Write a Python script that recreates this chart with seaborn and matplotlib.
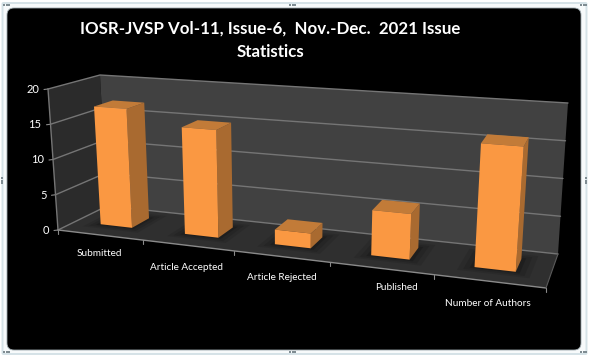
import numpy as np
import matplotlib
matplotlib.use('Agg')
import matplotlib.pyplot as plt
from matplotlib.patches import FancyBboxPatch
from matplotlib.transforms import Transform
import seaborn as sns

# Datos del grafico
categorias = ['Submitted', 'Article Accepted', 'Article Rejected', 'Published', 'Number of Authors']
valores = [17, 15, 2, 6, 16]
ticks_y = [0, 5, 10, 15, 20]
titulo = 'IOSR-JVSP Vol-11, Issue-6,  Nov.-Dec.  2021 Issue\nStatistics'

W, H = 589, 359
VMAX = 20
# esquinas de la caja 3D en pixeles: (frente/fondo)
FBL, FBR, FTL, FTR = np.array([58, 230.]), np.array([546, 288.]), np.array([48, 89.]), np.array([558, 126.])
BBL, BBR, BTL, BTR = np.array([107, 206.]), np.array([558, 254.]), np.array([100, 75.]), np.array([568, 103.])
K = 0.187           # perspectiva horizontal
D0, D1 = 0.36, 0.74 # profundidad de las barras


def proyectar(x, v, d):
    """Categoria (x), valor (v) y profundidad (d) a pixeles de la imagen."""
    x, v = np.asarray(x, float), np.asarray(v, float)
    u = (x + 0.5) / len(categorias)
    u = u / (1 + K * (1 - u))
    t = v / VMAX
    u, t = u[..., None], t[..., None]
    frente = (1 - t) * ((1 - u) * FBL + u * FBR) + t * ((1 - u) * FTL + u * FTR)
    fondo = (1 - t) * ((1 - u) * BBL + u * BBR) + t * ((1 - u) * BTL + u * BTR)
    return (1 - d) * frente + d * fondo


class Proyeccion(Transform):
    """Lleva datos del eje a pantalla a una profundidad fija."""
    input_dims = 2
    output_dims = 2

    def __init__(self, d):
        super().__init__()
        self.d = d

    def transform_non_affine(self, values):
        p = proyectar(values[:, 0], values[:, 1], self.d)
        return np.column_stack([p[:, 0], H - p[:, 1]])


sns.set_theme(style='white')
plt.rcParams['font.family'] = ['Lato', 'DejaVu Sans']

fig = plt.figure(figsize=(W / 100, H / 100), dpi=100, facecolor='white')

# Marco del objeto y fondo negro
fondo_ax = fig.add_axes([0, 0, 1, 1])
fondo_ax.set_xlim(0, W)
fondo_ax.set_ylim(H, 0)
fondo_ax.set_axis_off()
fondo_ax.add_patch(FancyBboxPatch((2.5, 3), 584, 351, boxstyle='round,pad=0,rounding_size=1',
                                  fc='#f7fafb', ec='#d5e2e7', lw=1.4))
fondo_ax.add_patch(FancyBboxPatch((7, 8), 574, 342, boxstyle='round,pad=0,rounding_size=7',
                                  fc='black', ec='#9aa5aa', lw=0.6))
for px, py in [(4, 5), (581, 5), (4, 352), (581, 352), (290, 5), (290, 352), (2, 178), (586, 178)]:
    for k in range(3):
        if py in (5, 352):
            fondo_ax.plot(px + k * 2.5, py, 's', ms=1.5, color='#7f8c92', mew=0)
        else:
            fondo_ax.plot(px, py + k * 2.5, 's', ms=1.5, color='#7f8c92', mew=0)

ax = fig.add_axes([0, 0, 1, 1])
ax.patch.set_alpha(0)
sns.barplot(x=categorias, y=valores, color='#FA9842', saturation=1, width=0.38, ax=ax,
            edgecolor='none', linewidth=0)
barras = list(ax.patches)
ax.set_axis_off()


def cara(puntos, color, z, alpha=1.0):
    p = np.array(puntos)
    fondo_ax.fill(p[:, 0], p[:, 1], color=color, zorder=z, alpha=alpha, lw=0)


p3 = proyectar
x_ini, x_fin = -0.5, len(categorias) - 0.5

# Paredes y suelo
cara([p3(x_ini, 0, 0), p3(x_ini, VMAX, 0), p3(x_ini, VMAX, 1), p3(x_ini, 0, 1)], '#2b2b2b', 2)
cara([p3(x_ini, 0, 1), p3(x_ini, VMAX, 1), p3(x_fin, VMAX, 1), p3(x_fin, 0, 1)], '#414141', 2)
cara([p3(x_ini, 0, 0), p3(x_ini, 0, 1), p3(x_fin, 0, 1), p3(x_fin, 0, 0)], '#2f2f2f', 2)

# Lineas de rejilla
for t in ticks_y:
    lin = np.array([p3(x_ini, t, 0), p3(x_ini, t, 1), p3(x_fin, t, 1)])
    fondo_ax.plot(lin[:, 0], lin[:, 1], color='#757575', lw=1, zorder=3)
    a = p3(x_ini, t, 0)
    fondo_ax.plot([a[0] - 4, a[0]], [a[1] + 0.5, a[1]], color='#8a8a8a', lw=0.8, zorder=3)
    fig.text((a[0] - 9) / W, 1 - (a[1] + 0.5) / H, str(t), color='white', fontsize=8,
             ha='right', va='center')
lin = np.array([p3(x_ini, 0, 0), p3(x_ini, VMAX, 0)])
fondo_ax.plot(lin[:, 0], lin[:, 1], color='#757575', lw=1, zorder=3)
lin = np.array([p3(x_ini, 0, 0), p3(x_fin, 0, 0)])
fondo_ax.plot(lin[:, 0], lin[:, 1], color='#8a8a8a', lw=1, zorder=3)
lin = np.array([p3(x_fin, 0, 0), p3(x_fin, 0, 1)])
fondo_ax.plot(lin[:, 0], lin[:, 1], color='#5a5a5a', lw=0.8, zorder=3)
for i in range(len(categorias) + 1):
    a = p3(x_ini + i, 0, 0)
    fondo_ax.plot([a[0], a[0]], [a[1], a[1] + 4], color='#8a8a8a', lw=0.8, zorder=3)

# Sombras en el suelo y caras laterales de cada barra
for b in barras:
    x0, x1, v = b.get_x(), b.get_x() + b.get_width(), b.get_height()
    for ext, al in [(0.14, 0.15), (0.09, 0.2), (0.04, 0.3)]:
        cara([p3(x0 - ext, 0, D0 - ext), p3(x1 + ext, 0, D0 - ext),
              p3(x1 + ext, 0, D1 + ext), p3(x0 - ext, 0, D1 + ext)], '#111111', 4, alpha=al)
    cara([p3(x1, 0, D0), p3(x1, v, D0), p3(x1, v, D1), p3(x1, 0, D1)], '#A96A30', 5)
    cara([p3(x0, v, D0), p3(x1, v, D0), p3(x1, v, D1), p3(x0, v, D1)], '#C27B38', 5)
    # la cara frontal es la barra de seaborn proyectada
    b.set_transform(Proyeccion(D0))
    b.set_clip_on(False)
    b.set_zorder(6)

# Etiquetas del eje x
pos_x = [(99, 254), (187, 267), (282, 277), (396, 288), (488, 303)]
for nombre, (px, py) in zip(categorias, pos_x):
    fig.text(px / W, 1 - py / H, nombre, color='white', fontsize=7.2, ha='center', va='center')

fig.text(270.5 / W, 1 - 40 / H, titulo, color='white', fontsize=12.2, fontweight='bold',
         ha='center', va='center', linespacing=1.6)

fig.savefig('out.png', dpi=100, facecolor='white')
